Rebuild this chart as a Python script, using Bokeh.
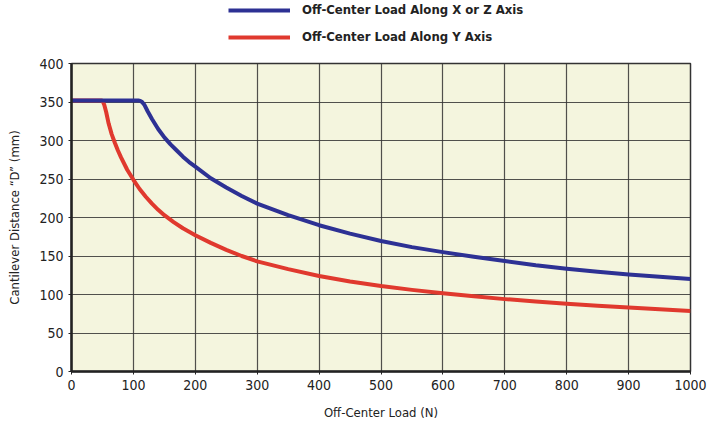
from bokeh.plotting import figure
from bokeh.models import Legend, LegendItem, FixedTicker, Range1d
from bokeh.layouts import column
from bokeh.embed import file_html
from bokeh.resources import INLINE

# Off-center load along X or Z axis
x_xz = [0, 108, 111, 114, 118, 123, 130, 140, 150, 160, 170, 180, 190, 200, 225, 250, 275, 300,
        350, 400, 450, 500, 550, 600, 650, 700, 750, 800, 850, 900, 950, 1000]
d_xz = [352, 352, 351.5, 350, 346, 338, 328, 315, 304, 295, 287, 279, 272, 266, 251, 239, 228, 218,
        203, 190, 179, 169.5, 161.5, 155, 149, 143.5, 138, 133.5, 129.5, 126, 123, 120]

# Off-center load along Y axis
x_y = [0, 49, 51, 53, 56, 60, 65, 70, 75, 80, 90, 100, 110, 120, 130, 140, 150, 165, 180, 200,
       225, 250, 275, 300, 350, 400, 450, 500, 550, 600, 650, 700, 750, 800, 850, 900, 950, 1000]
d_y = [352, 352, 350, 346, 337, 322, 308, 297, 287, 278, 262, 249, 237, 227, 218, 210, 203, 194, 186, 177,
       167, 158, 150, 143, 133, 124, 117, 111, 106, 101.5, 97.6, 94, 91, 88, 85.5, 83, 80.7, 78.5]

x_ticks = [0, 100, 200, 300, 400, 500, 600, 700, 800, 900, 1000]
y_ticks = [0, 50, 100, 150, 200, 250, 300, 350, 400]

series_names = ["Off-Center Load Along X or Z Axis", "Off-Center Load Along Y Axis"]
BLUE = "#2D3194"
RED = "#E0392E"
FONT = "DejaVu Sans Condensed"

W = 722
TOP_H = 50
MAIN_H = 378

# ---- legend strip (series drawn off-range so only the legend shows) ----
top = figure(width=W, height=TOP_H, output_backend="svg", toolbar_location=None,
             x_range=Range1d(0, 1000), y_range=Range1d(1000, 1001),
             min_border_left=71, min_border_right=32, min_border_top=0, min_border_bottom=0,
             x_axis_type=None, y_axis_type=None)
top.outline_line_color = None
top.grid.visible = False
lb = top.line(x_xz, d_xz, line_color=BLUE, line_width=4)
lr = top.line(x_y, d_y, line_color=RED, line_width=4)
legend = Legend(items=[
    LegendItem(label=series_names[0], renderers=[lb]),
    LegendItem(label=series_names[1], renderers=[lr]),
], location=(157, 6))
legend.background_fill_alpha = 0
legend.border_line_color = None
legend.padding = 0
legend.margin = 0
legend.spacing = 12
legend.glyph_width = 62
legend.glyph_height = 12
legend.label_height = 12
legend.label_standoff = 12
legend.label_text_font = FONT
legend.label_text_font_style = "bold"
legend.label_text_font_size = "13px"
legend.label_text_color = "#222222"
top.add_layout(legend, "center")

# ---- main chart ----
p = figure(width=W, height=MAIN_H, output_backend="svg", toolbar_location=None,
           x_range=Range1d(0, 1000), y_range=Range1d(0, 400),
           min_border_left=71, min_border_right=32, min_border_top=13, min_border_bottom=57)

p.background_fill_color = "#F4F5DE"
p.border_fill_color = "white"
p.outline_line_color = "#333333"
p.outline_line_width = 1.5

for g in (p.xgrid, p.ygrid):
    g.grid_line_color = "#333333"
    g.grid_line_width = 1.2
    g.grid_line_alpha = 0.85
p.xgrid.ticker = FixedTicker(ticks=x_ticks)
p.ygrid.ticker = FixedTicker(ticks=y_ticks)

p.xaxis.ticker = FixedTicker(ticks=x_ticks)
p.yaxis.ticker = FixedTicker(ticks=y_ticks)
for ax in (p.xaxis, p.yaxis):
    ax.axis_line_color = "#222222"
    ax.axis_line_width = 2.5
    ax.major_tick_line_color = "#222222"
    ax.major_tick_in = 0
    ax.major_tick_out = 3
    ax.minor_tick_line_color = None
    ax.major_label_text_font = FONT
    ax.major_label_text_font_size = "14px"
    ax.major_label_text_color = "#222222"
    ax.axis_label_text_font = FONT
    ax.axis_label_text_font_size = "13px"
    ax.axis_label_text_font_style = "normal"
    ax.axis_label_text_color = "#222222"

p.xaxis.axis_label = "Off-Center Load (N)"
p.yaxis.axis_label = "Cantilever Distance \u201cD\u201d (mm)"
p.xaxis.major_label_standoff = 5
p.yaxis.major_label_standoff = 5
p.xaxis.axis_label_standoff = 12
p.yaxis.axis_label_standoff = 14

p.line(x_y, d_y, line_color=RED, line_width=4, line_join="round")
p.line(x_xz, d_xz, line_color=BLUE, line_width=4, line_join="round")

layout = column(top, p, spacing=0)
open("out.html", "w").write(file_html(layout, INLINE))
